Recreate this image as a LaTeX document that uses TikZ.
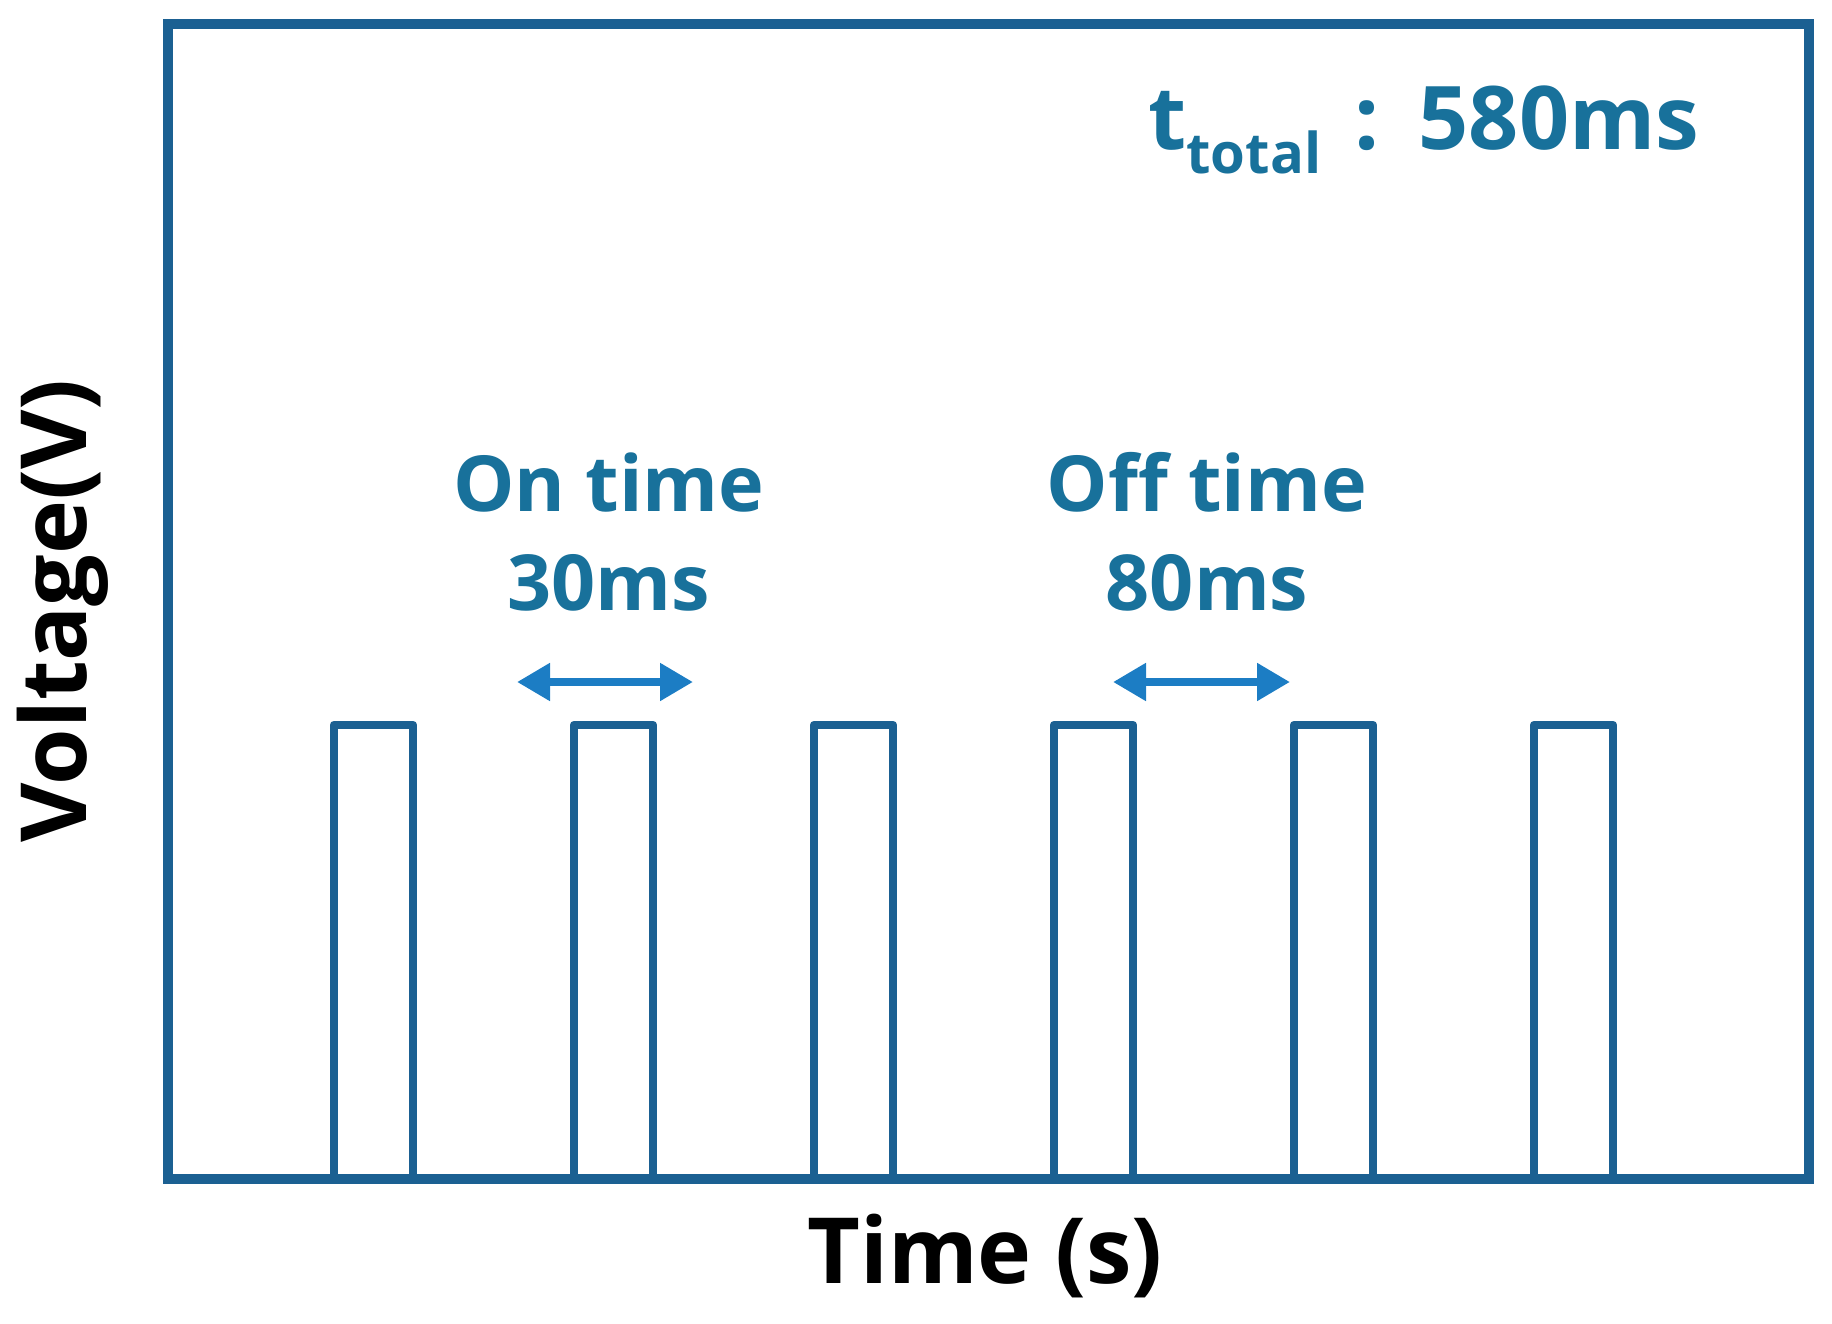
\documentclass[tikz,border=0pt]{standalone}
\usepackage{fontspec}
\setmainfont{Open Sans}
\usetikzlibrary{arrows.meta}
\definecolor{framecol}{RGB}{27,96,146}
\definecolor{arrcol}{RGB}{28,125,196}
\definecolor{txtcol}{RGB}{24,113,155}
\begin{document}
\begin{tikzpicture}[x=0.02cm,y=-0.02cm,
  frame/.style={draw=framecol,line width=5.6pt,line join=miter},
  pulse/.style={draw=framecol,line width=5pt,line join=round},
  dblarrow/.style={draw=arrcol,line width=4.6pt,{Triangle[length=0.66cm,width=0.72cm]}-{Triangle[length=0.66cm,width=0.72cm]}},
  lbl/.style={text=txtcol,font=\fontsize{44}{52}\selectfont\bfseries,inner sep=0pt},
  axlbl/.style={text=black,font=\fontsize{52}{60}\selectfont\bfseries,inner sep=0pt}]
\useasboundingbox (0,0) rectangle (1832,1324);
\draw[frame] (168,24) rectangle (1809,1179);
\foreach \i in {0,...,5}{
  \draw[pulse] ({334+240*\i},1179) -- ({334+240*\i},725) -- ({413+240*\i},725) -- ({413+240*\i},1179);
}
\coordinate (a1l) at (517,682);
\coordinate (a1r) at (693,682);
\coordinate (a2l) at (1113,682);
\coordinate (a2r) at (1290,682);
\draw[dblarrow] (a1l) -- (a1r);
\draw[dblarrow] (a2l) -- (a2r);
\node[lbl,anchor=base] (on) at (609,511) {On time};
\node[lbl,anchor=base] (on2) at (609,610) {30ms};
\node[lbl,anchor=base] (off) at (1207,511) {Off time};
\node[lbl,anchor=base] (off2) at (1207,610) {80ms};
\node[lbl,anchor=base west,font=\fontsize{50}{58}\selectfont\bfseries] (tt) at (1148,150) {t\raisebox{-0.27em}{\fontsize{32}{38}\selectfont total}\hspace{0.12em} : \hspace{0.1em}580ms};
\node[axlbl,anchor=base] (time) at (985,1283) {Time (s)};
\node[axlbl,rotate=90] (volt) at (63,611) {Voltage(V)};
\end{tikzpicture}
\end{document}
